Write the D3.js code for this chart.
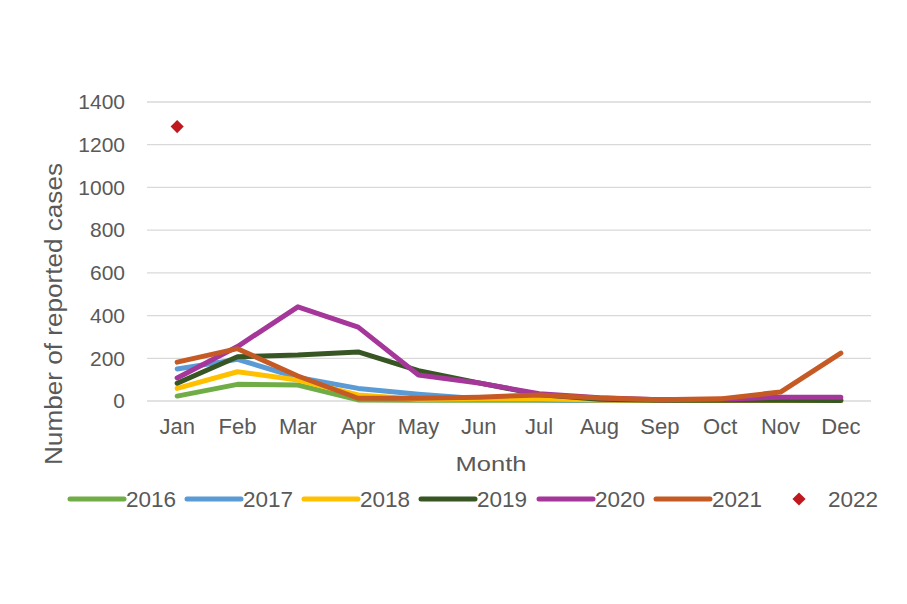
<!DOCTYPE html>
<html><head><meta charset="utf-8">
<script src="https://cdn.jsdelivr.net/npm/d3@7"></script>
<style>body{margin:0;background:#fff}svg{display:block}text{font-family:Arial,"Liberation Sans",sans-serif;fill:#595959}</style>
</head><body><svg id="c" width="907" height="604"></svg>
<script>
const months = ["Jan","Feb","Mar","Apr","May","Jun","Jul","Aug","Sep","Oct","Nov","Dec"];
const yTicks = [0,200,400,600,800,1000,1200,1400];
const years = ["2016","2017","2018","2019","2020","2021"];
const colors = ["#70AD47","#5B9BD5","#FFC000","#375623","#A5369A","#C65A24"];
const v2016 = [23,78,75,5,4,3,3,2,2,2,2,2];
const v2017 = [150,195,110,59,32,10,6,4,3,3,3,3];
const v2018 = [59,137,98,28,8,10,10,5,3,3,3,3];
const v2019 = [83,207,215,230,142,85,30,8,4,4,3,2];
const v2020 = [108,255,441,346,122,84,34,15,6,8,18,18];
const v2021 = [182,245,117,13,13,18,28,14,6,10,42,224];
const series = [v2016,v2017,v2018,v2019,v2020,v2021];
const v2022 = [{m:"Jan", v:1285}];

const svg = d3.select("#c");
const L=147, R=871, T=102, B=401;
const x = d3.scaleBand().domain(months).range([L,R]);
const y = d3.scaleLinear().domain([0,1400]).range([B,T]);
const FF = "Arial, 'Liberation Sans', sans-serif";

// gridlines
svg.append("g").selectAll("line").data(yTicks).join("line")
  .attr("x1",L).attr("x2",R).attr("y1",d=>y(d)).attr("y2",d=>y(d))
  .attr("stroke","#d9d9d9").attr("stroke-width",1.3);

// y axis labels
const ya = svg.append("g").attr("transform",`translate(${L},0)`)
  .call(d3.axisLeft(y).tickValues(yTicks).tickFormat(d3.format("d")).tickSize(0).tickPadding(22));
ya.select(".domain").remove();
ya.selectAll("text").style("font-size","21px").attr("fill","#595959").attr("font-family",FF);

// x axis labels
const xa = svg.append("g").attr("transform",`translate(0,${B})`)
  .call(d3.axisBottom(x).tickSize(0).tickPadding(17));
xa.select(".domain").remove();
xa.selectAll("text").style("font-size","22px").attr("fill","#595959").attr("font-family",FF);

const line = d3.line().x((d,i)=>x(months[i])+x.bandwidth()/2).y(d=>y(d));
svg.append("g").selectAll("path").data(series).join("path")
  .attr("d",d=>line(d)).attr("fill","none")
  .attr("stroke",(d,i)=>colors[i]).attr("stroke-width",5)
  .attr("stroke-linejoin","round").attr("stroke-linecap","round");

// 2022 diamond
svg.append("g").selectAll("path").data(v2022).join("path")
  .attr("d",d3.symbol(d3.symbolDiamond2,110)())
  .attr("transform",d=>`translate(${x(d.m)+x.bandwidth()/2},${y(d.v)})`)
  .attr("fill","#C0181F");

// axis titles
svg.append("text").attr("x",491).attr("y",471).attr("text-anchor","middle")
  .attr("textLength",71).attr("lengthAdjust","spacingAndGlyphs")
  .style("font-size","21px").text("Month");
svg.append("text").attr("transform","translate(62,314) rotate(-90)").attr("text-anchor","middle")
  .attr("textLength",302).attr("lengthAdjust","spacingAndGlyphs")
  .style("font-size","23px").text("Number of reported cases");

// legend
const legY = 499;
const legX = [70,187,304,421,539,656];
const lg = svg.append("g");
years.forEach((yr,i)=>{
  lg.append("line").attr("x1",legX[i]).attr("x2",legX[i]+54).attr("y1",legY).attr("y2",legY)
    .attr("stroke",colors[i]).attr("stroke-width",5).attr("stroke-linecap","round");
  lg.append("text").attr("x",legX[i]+56).attr("y",legY+8).style("font-size","22.5px").text(yr);
});
lg.append("path").attr("d",d3.symbol(d3.symbolDiamond2,110)())
  .attr("transform",`translate(799,${legY})`).attr("fill","#C0181F");
lg.append("text").attr("x",828).attr("y",legY+8).style("font-size","22.5px").text("2022");
</script></body></html>
